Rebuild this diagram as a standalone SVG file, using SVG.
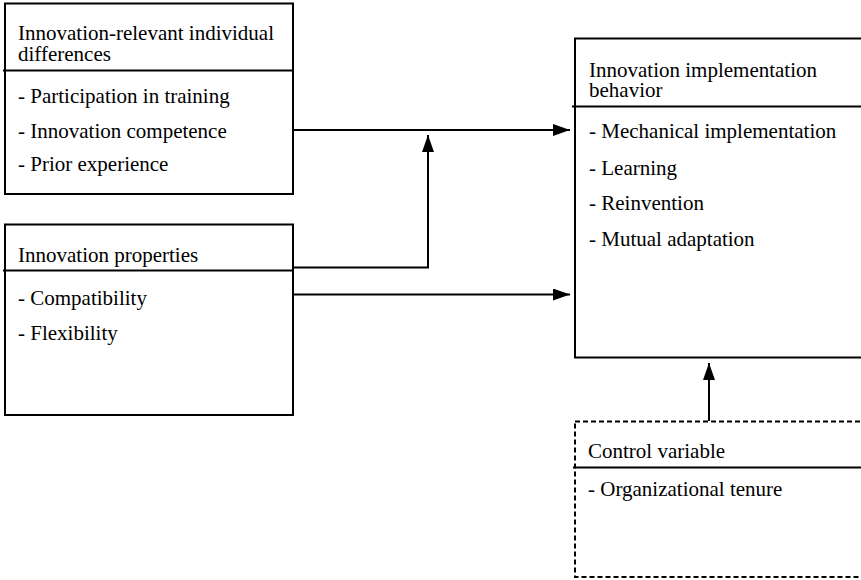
<svg xmlns="http://www.w3.org/2000/svg" width="861" height="580" viewBox="0 0 861 580">
<defs>
<style>
.box{fill:#fff;stroke:#000;stroke-width:2}
.dash{fill:#fff;stroke:#000;stroke-width:2;stroke-dasharray:5 3}
.sep{stroke:#000;stroke-width:2}
.c{fill:none;stroke:#000;stroke-width:2}
</style>
<marker id="ah" markerUnits="userSpaceOnUse" markerWidth="17" markerHeight="12" refX="17" refY="6" orient="auto">
<path d="M0,0 L17,6 L0,12 z" fill="#000"/>
</marker>
</defs>
<rect width="861" height="580" fill="#fff"/>
<g font-family="Liberation Serif, Times New Roman, DejaVu Serif, serif" font-size="21" fill="#000">
<g id="individual-differences">
<rect class="box" x="5" y="3.5" width="288" height="190.5"/>
<line class="sep" x1="3" y1="70.5" x2="293" y2="70.5"/>
<text x="18" y="40">Innovation-relevant individual</text>
<text x="18" y="61">differences</text>
<text x="18" y="103">- Participation in training</text>
<text x="18" y="138">- Innovation competence</text>
<text x="18" y="171">- Prior experience</text>
</g>
<g id="innovation-properties">
<rect class="box" x="5" y="224.5" width="288" height="190.5"/>
<line class="sep" x1="3" y1="270.5" x2="293" y2="270.5"/>
<text x="18" y="262">Innovation properties</text>
<text x="18" y="305">- Compatibility</text>
<text x="18" y="340">- Flexibility</text>
</g>
<g id="implementation-behavior">
<rect class="box" x="575" y="38.5" width="300" height="319"/>
<line class="sep" x1="572" y1="106.5" x2="861" y2="106.5"/>
<text x="589" y="77">Innovation implementation</text>
<text x="589" y="97">behavior</text>
<text x="589" y="138">- Mechanical implementation</text>
<text x="589" y="175">- Learning</text>
<text x="589" y="210">- Reinvention</text>
<text x="589" y="246">- Mutual adaptation</text>
</g>
<g id="control-variable">
<rect class="dash" x="575" y="421.5" width="300" height="155.5"/>
<line class="sep" x1="573" y1="467.5" x2="861" y2="467.5"/>
<text x="588" y="458">Control variable</text>
<text x="588" y="496">- Organizational tenure</text>
</g>
</g>
<g id="connectors">
<line class="c" x1="293" y1="130" x2="570" y2="130" marker-end="url(#ah)"/>
<polyline class="c" points="292,267.5 428,267.5 428,135" marker-end="url(#ah)"/>
<line class="c" x1="293" y1="294.5" x2="570" y2="294.5" marker-end="url(#ah)"/>
<line class="c" x1="709" y1="421" x2="709" y2="363" marker-end="url(#ah)"/>
</g>
</svg>
